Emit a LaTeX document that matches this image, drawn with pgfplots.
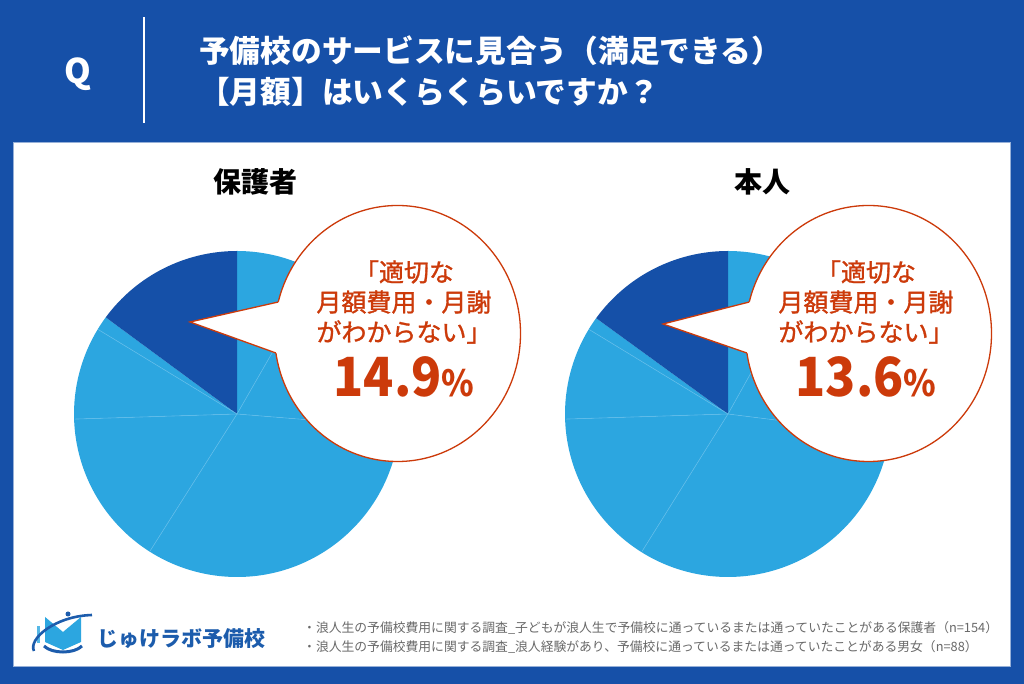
\documentclass[border=0pt]{standalone}
\usepackage{pgfplots}
\pgfplotsset{compat=1.18}
\usepackage{pgfplotstable}
\usepackage{graphicx}
\usepackage{fontspec}
\setmainfont{Noto Sans CJK JP}
\newfontfamily\medfont{Noto Sans CJK JP}[FakeBold=1.2]
\definecolor{bgblue}{RGB}{22,80,168}
\definecolor{darkslice}{RGB}{21,80,168}
\definecolor{lightslice}{RGB}{44,166,224}
\definecolor{sepcol}{RGB}{95,188,234}
\definecolor{callout}{RGB}{204,58,10}
\definecolor{notegray}{RGB}{105,105,105}
\definecolor{logoblue}{RGB}{28,92,172}

% pie shares in percent, clockwise from 12 o'clock
\pgfplotstableread{
value col
8.3 lightslice
18.0 lightslice
32.7 lightslice
15.5 lightslice
9.2 lightslice
1.4 lightslice
14.9 darkslice
}\parentdata
\pgfplotstableread{
value col
8.1 lightslice
18.9 lightslice
31.9 lightslice
15.6 lightslice
9.2 lightslice
1.3 lightslice
15.0 darkslice
}\selfdata

\newcommand{\drawpie}[2]{%
  \pgfplotstablegetrowsof{#1}%
  \pgfmathtruncatemacro\pienrows{\pgfplotsretval-1}%
  \def\piecum{0}%
  \pgfplotsforeachungrouped \pierow in {0,...,\pienrows}{%
    \pgfplotstablegetelem{\pierow}{value}\of{#1}\let\pieval\pgfplotsretval
    \pgfplotstablegetelem{\pierow}{col}\of{#1}\let\piecol\pgfplotsretval
    \pgfmathsetmacro\piesa{90-3.6*\piecum}%
    \pgfmathsetmacro\pieea{90-3.6*(\piecum+\pieval)}%
    \edef\pietemp{\noexpand\fill[\piecol] (axis cs:0,0) -- (axis cs:{cos(\piesa)},{sin(\piesa)}) arc[start angle=\piesa, end angle=\pieea, radius=#2pt] -- cycle;}%
    \pietemp
    \pgfmathsetmacro\piecum{\piecum+\pieval}%
  }%
  \def\piecum{0}%
  \pgfplotsforeachungrouped \pierow in {0,...,\pienrows}{%
    \pgfplotstablegetelem{\pierow}{value}\of{#1}\let\pieval\pgfplotsretval
    \pgfmathsetmacro\piesa{90-3.6*\piecum}%
    \edef\pietemp{\noexpand\draw[sepcol, line width=0.6pt] (axis cs:0,0) -- (axis cs:{0.995*cos(\piesa)},{0.995*sin(\piesa)});}%
    \ifnum\pierow>0 \ifnum\pierow<6 \pietemp\fi\fi
    \pgfmathsetmacro\piecum{\piecum+\pieval}%
  }%
}

\begin{document}
\begin{tikzpicture}[x=1pt,y=1pt]
% background and panel
\fill[bgblue] (0,0) rectangle (1024,684);
\fill[white] (13,18) rectangle (1010,542);
\draw[white!55!bgblue, line width=0.8pt] (13,18) rectangle (1010,542);

% header
\node[anchor=base, inner sep=0, text=white, font=\bfseries\fontsize{34}{38}\selectfont] at (78,600) {Q};
\draw[white, line width=1.2pt] (144,561) -- (144,667);
\node[anchor=base west, inner sep=0, text=white, font=\bfseries\fontsize{30.7}{34}\selectfont] at (199,621) {予備校のサービスに見合う（満足できる）};
\node[anchor=base west, inner sep=0, text=white, font=\bfseries\fontsize{30.7}{34}\selectfont] at (199,580) {【月額】はいくらくらいですか？};

% panel titles
\node[anchor=base, inner sep=0, font=\bfseries\fontsize{28}{32}\selectfont] at (255,491) {保護者};
\node[anchor=base, inner sep=0, font=\bfseries\fontsize{28}{32}\selectfont] at (762,491) {本人};

% pies
\begin{axis}[at={(237pt,270pt)}, anchor=origin, scale only axis,
  width=326pt, height=326pt, xmin=-1, xmax=1, ymin=-1, ymax=1,
  hide axis, clip=false]
\drawpie{\parentdata}{163}
\end{axis}
\begin{axis}[at={(728pt,270pt)}, anchor=origin, scale only axis,
  width=326pt, height=326pt, xmin=-1, xmax=1, ymin=-1, ymax=1,
  hide axis, clip=false]
\drawpie{\selfdata}{163}
\end{axis}

% callouts
\begin{scope}[line width=1.3pt, line join=miter]
\filldraw[fill=white, draw=callout] (397.5,350.5) ellipse [x radius=123, y radius=128];
\fill[white] (190,362) -- (278.3,382) -- (300,382) -- (300,331) -- (275.9,331) -- cycle;
\draw[callout] (278.3,382) -- (190,362) -- (275.9,331);
\filldraw[fill=white, draw=callout] (868.5,350.5) ellipse [x radius=123, y radius=128];
\fill[white] (663,360) -- (749.3,382) -- (770,382) -- (770,331) -- (746.9,331) -- cycle;
\draw[callout] (749.3,382) -- (663,360) -- (746.9,331);
\end{scope}

\foreach \cx/\num in {404/14.9, 866/13.6}{
  \node[anchor=base, inner sep=0, text=callout, font=\medfont\fontsize{25}{28}\selectfont] at (\cx,402.5) {「適切な};
  \node[anchor=base, inner sep=0, text=callout, font=\medfont\fontsize{25}{28}\selectfont] at (\cx,372.5) {月額費用・月謝};
  \node[anchor=base, inner sep=0, text=callout, font=\medfont\fontsize{25}{28}\selectfont] at (\cx,342.5) {がわからない」};
  \node[anchor=base, inner sep=0, text=callout] at (\cx,287) {\scalebox{0.92}[1]{\bfseries\fontsize{54}{60}\selectfont \num{\fontsize{36}{40}\selectfont\%}}};
}

% logo
\fill[lightslice!80!white] (37,41) rectangle (40,58);
\fill[lightslice] (45,67) -- (63,52) -- (63,34) -- (45,42) -- cycle;
\fill[lightslice] (81,67) -- (63,52) -- (63,34) -- (81,42) -- cycle;
\draw[logoblue, line width=3pt] (44,38) .. controls (52,30) and (74,30) .. (82,38);
\draw[logoblue, line width=2.6pt] (34,33) .. controls (28,45) and (55,68) .. (92,69);
\fill[logoblue] (68,70) circle (2.5);
\node[anchor=base west, inner sep=0, text=logoblue, font=\bfseries\fontsize{21}{24}\selectfont] at (97,37) {じゅけラボ予備校};

% notes
\node[anchor=base west, inner sep=0, text=notegray, font=\fontsize{12.8}{15}\selectfont] at (303,51) {・浪人生の予備校費用に関する調査\_子どもが浪人生で予備校に通っているまたは通っていたことがある保護者（n=154）};
\node[anchor=base west, inner sep=0, text=notegray, font=\fontsize{12.8}{15}\selectfont] at (303,32) {・浪人生の予備校費用に関する調査\_浪人経験があり、予備校に通っているまたは通っていたことがある男女（n=88）};
\end{tikzpicture}
\end{document}
